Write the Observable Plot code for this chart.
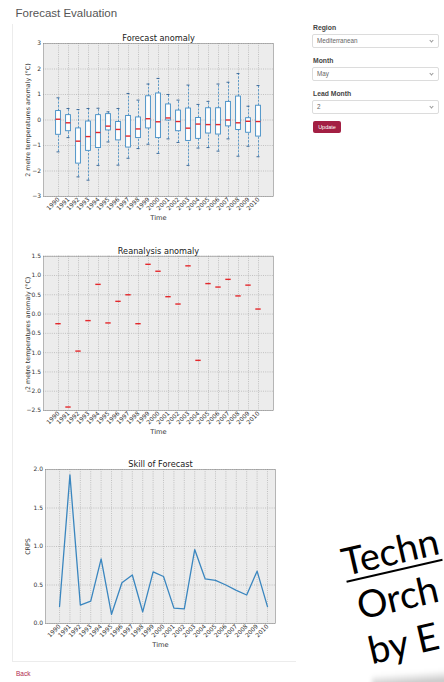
<!DOCTYPE html>
<html><head><meta charset="utf-8">
<script src="https://cdn.jsdelivr.net/npm/d3@7"></script>
<script src="https://cdn.jsdelivr.net/npm/@observablehq/plot@0.6"></script>
<style>
html,body{margin:0;padding:0;width:444px;height:682px;overflow:hidden;background:#fff;font-family:"Liberation Sans",Arial,sans-serif;}
#page{position:relative;width:444px;height:682px;overflow:hidden;}
#hdr{position:absolute;left:15.5px;top:6.5px;font-size:11.5px;color:#555;}
.chart{position:absolute;left:0;}
.chart svg{display:block;}
.lbl{position:absolute;left:313px;font-size:6.8px;font-weight:bold;color:#444;}
.sel{position:absolute;left:312px;width:127px;height:14px;border:1px solid #dcdcdc;border-radius:2px;background:#fff;box-sizing:border-box;font-size:6.3px;color:#666;line-height:12px;padding-left:4px;}
.chev{position:absolute;right:5px;top:4px;width:2px;height:2px;border-right:1px solid #999;border-bottom:1px solid #999;transform:rotate(45deg);}
#btn{position:absolute;left:313px;top:121px;width:28px;height:12px;background:#a31f43;border-radius:2px;color:#fff;font-size:5.5px;line-height:12px;text-align:center;}
#back{position:absolute;left:16px;top:670px;font-size:6.5px;color:#b0284e;}
#panel{position:absolute;left:12px;top:24px;width:283px;height:637px;border-left:1px solid #ececec;border-bottom:1px solid #ececec;}
#slide{position:absolute;left:345px;top:575px;transform-origin:0 0;transform:rotate(-13deg);font-family:Lato,"Open Sans",sans-serif;font-size:38px;color:#000;white-space:nowrap;}
#slide div{position:absolute;left:0;line-height:46px;}
#shadow{position:absolute;left:372px;top:672px;width:90px;height:14px;background:linear-gradient(to bottom,rgba(0,0,0,0),rgba(0,0,0,0.28));filter:blur(2px);transform:rotate(-4deg);}
</style>
</head><body>
<div id="page">
  <div id="panel"></div>
  <div id="hdr">Forecast Evaluation</div>
  <div class="chart" id="c1" style="top:30px"></div>
  <div class="chart" id="c2" style="top:240px"></div>
  <div class="chart" id="c3" style="top:450px"></div>

  <div class="lbl" style="top:24px">Region</div>
  <div class="sel" style="top:34px">Mediterranean<span class="chev"></span></div>
  <div class="lbl" style="top:57px">Month</div>
  <div class="sel" style="top:67px">May<span class="chev"></span></div>
  <div class="lbl" style="top:90px">Lead Month</div>
  <div class="sel" style="top:100px">2<span class="chev"></span></div>
  <div id="btn">Update</div>
  <div id="back">Back</div>

  <div id="slide">
    <div style="top:-37px;text-decoration:underline;text-decoration-thickness:2px;text-underline-offset:5px">Techn</div>
    <div style="top:9px;left:5px">Orch</div>
    <div style="top:55px;left:6px">by E</div>
  </div>
  <div id="shadow"></div>
</div>
<script>
// ---------- data ----------
const years = ["1990","1991","1992","1993","1994","1995","1996","1997","1998","1999","2000",
               "2001","2002","2003","2004","2005","2006","2007","2008","2009","2010"];
const yearNums = [1990,1991,1992,1993,1994,1995,1996,1997,1998,1999,2000,
                  2001,2002,2003,2004,2005,2006,2007,2008,2009,2010];
// Forecast anomaly ensemble boxplots
const capHi  = [0.87,0.45,0.41,0.45,0.46,0.32,0.45,1.04,0.78,1.41,1.63,1.00,0.78,1.37,0.61,0.73,1.41,1.48,1.82,0.54,1.35];
const q3     = [0.35,0.19,-0.33,-0.06,0.19,0.23,-0.08,0.16,0.10,0.93,1.04,0.61,0.37,0.45,0.08,0.46,0.46,0.71,0.92,0.07,0.56];
const median = [0.03,-0.11,-0.83,-0.65,-0.49,-0.24,-0.37,-0.63,-0.35,0.05,-0.07,0.08,-0.06,-0.32,-0.16,-0.18,-0.18,0.00,-0.11,-0.05,-0.06];
const q1     = [-0.58,-0.44,-1.71,-1.21,-1.10,-0.41,-0.80,-1.08,-0.71,-0.33,-0.71,-0.02,-0.44,-0.82,-0.74,-0.53,-0.57,-0.25,-0.39,-0.50,-0.65];
const capLo  = [-1.25,-0.69,-2.23,-2.36,-1.78,-0.86,-1.77,-1.50,-1.12,-0.95,-1.31,-0.74,-0.88,-1.78,-1.10,-1.08,-1.22,-0.74,-1.42,-1.03,-1.44];
// Reanalysis anomaly
const reanalysis = [-0.25,-2.41,-0.96,-0.17,0.77,-0.23,0.33,0.50,-0.25,1.29,1.11,0.45,0.26,1.25,-1.20,0.79,0.70,0.90,0.47,0.75,0.13];
// Skill of forecast (CRPS)
const crps = [0.22,1.93,0.24,0.29,0.84,0.12,0.53,0.63,0.15,0.67,0.61,0.20,0.19,0.96,0.58,0.56,0.50,0.43,0.37,0.68,0.22];

const ticks1 = [-3,-2,-1,0,1,2,3];
const ticks2 = [-2.5,-2.0,-1.5,-1.0,-0.5,0.0,0.5,1.0,1.5];
const ticks3 = [0.0,0.5,1.0,1.5,2.0];

const titles = ["Forecast anomaly","Reanalysis anomaly","Skill of Forecast"];
const yLabels = ["2 metre temperatures anomaly (°C)","2 metre temperatures anomaly (°C)","CRPS"];
const xLabel = "Time";

// ---------- styling ----------
const BG = "#ececec", GRID = "#a4a4a4", BLUE = "#3d8ac4", CAP = "#2f5f92", RED = "#e4282c", LINE = "#3a86bf";
const font = "DejaVu Sans";

function decor(title, ylab, ylabDx) {
  return [
    Plot.text([title], {frameAnchor:"top", dy:-5, fontSize:8.2, fill:"#1a1a1a", fontFamily:font, lineAnchor:"middle"}),
    Plot.text([ylab], {frameAnchor:"left", dx:ylabDx, rotate:-90, textAnchor:"middle", lineAnchor:"middle", fontSize:6.3, fill:"#333", fontFamily:font}),
    Plot.text([xLabel], {frameAnchor:"bottom", dy:21, fontSize:6.7, fill:"#333", fontFamily:font, lineAnchor:"middle"})
  ];
}
const gridStyle = {stroke:GRID, strokeOpacity:1, strokeDasharray:"1,1.2", strokeWidth:0.6};

// ---------- chart 1 ----------
const boxes = years.map((y,i)=>({year:y, hi:capHi[i], q3:q3[i], med:median[i], q1:q1[i], lo:capLo[i]}));
const c1 = Plot.plot({
  width:290, height:198, marginLeft:43, marginRight:17, marginTop:13, marginBottom:32,
  style:{fontFamily:font, color:"#333", background:"transparent", overflow:"visible"},
  x:{type:"band", domain:years, padding:0, label:null},
  y:{domain:[-3,3], label:null},
  marks:[
    Plot.frame({fill:BG}),
    Plot.gridX({...gridStyle}),
    Plot.gridY(ticks1, {...gridStyle}),
    Plot.ruleX(boxes, {x:"year", y1:"q3", y2:"hi", stroke:BLUE, strokeWidth:0.8, strokeDasharray:"2,1.5"}),
    Plot.ruleX(boxes, {x:"year", y1:"lo", y2:"q1", stroke:BLUE, strokeWidth:0.8, strokeDasharray:"2,1.5"}),
    Plot.tickY(boxes, {x:"year", y:"hi", stroke:CAP, strokeWidth:0.9, insetLeft:3.5, insetRight:3.5}),
    Plot.tickY(boxes, {x:"year", y:"lo", stroke:CAP, strokeWidth:0.9, insetLeft:3.5, insetRight:3.5}),
    Plot.barY(boxes, {x:"year", y1:"q1", y2:"q3", fill:"#fff", stroke:BLUE, strokeWidth:0.9, insetLeft:2.6, insetRight:2.6}),
    Plot.tickY(boxes, {x:"year", y:"med", stroke:RED, strokeWidth:1.4, insetLeft:2.6, insetRight:2.6}),
    Plot.frame({stroke:"#8a8a8a", strokeWidth:0.6}),
    Plot.axisX({tickRotate:-45, tickSize:0, tickPadding:2, fontSize:6, label:null, fill:"#333"}),
    Plot.axisY(ticks1, {tickSize:0, tickPadding:2.5, fontSize:6, label:null, fill:"#333"}),
    ...decor(titles[0], yLabels[0], -16)
  ]
});
document.getElementById("c1").append(c1);

// ---------- chart 2 ----------
const rea = years.map((y,i)=>({year:y, v:reanalysis[i]}));
const c2 = Plot.plot({
  width:290, height:200, marginLeft:43, marginRight:17, marginTop:15.7, marginBottom:30,
  style:{fontFamily:font, color:"#333", background:"transparent", overflow:"visible"},
  x:{type:"band", domain:years, padding:0, label:null},
  y:{domain:[-2.5,1.5], label:null},
  marks:[
    Plot.frame({fill:BG}),
    Plot.gridX({...gridStyle}),
    Plot.gridY(ticks2, {...gridStyle}),
    Plot.tickY(rea, {x:"year", y:"v", stroke:RED, strokeWidth:1.4, insetLeft:2.3, insetRight:2.3}),
    Plot.frame({stroke:"#8a8a8a", strokeWidth:0.6}),
    Plot.axisX({tickRotate:-45, tickSize:0, tickPadding:2, fontSize:6, label:null, fill:"#333"}),
    Plot.axisY(ticks2, {tickSize:0, tickPadding:2.5, fontSize:6, label:null, fill:"#333", tickFormat:d3.format(".1f")}),
    ...decor(titles[1], yLabels[1], -16)
  ]
});
document.getElementById("c2").append(c2);

// ---------- chart 3 ----------
const skill = yearNums.map((y,i)=>({year:y, v:crps[i]}));
const c3 = Plot.plot({
  width:290, height:200, marginLeft:45, marginRight:15, marginTop:19, marginBottom:27,
  style:{fontFamily:font, color:"#333", background:"transparent", overflow:"visible"},
  x:{type:"linear", domain:[1988.65, 2010.77], label:null},
  y:{domain:[0,2], label:null},
  marks:[
    Plot.frame({fill:BG}),
    Plot.gridX(yearNums, {...gridStyle}),
    Plot.gridY(ticks3, {...gridStyle}),
    Plot.lineY(skill, {x:"year", y:"v", stroke:LINE, strokeWidth:1.3}),
    Plot.frame({stroke:"#8a8a8a", strokeWidth:0.6}),
    Plot.axisX(yearNums, {tickRotate:-45, tickSize:0, tickPadding:2, fontSize:6, label:null, fill:"#333", tickFormat:d=>String(d)}),
    Plot.axisY(ticks3, {tickSize:0, tickPadding:2.5, fontSize:6, label:null, fill:"#333", tickFormat:d3.format(".1f")}),
    ...decor(titles[2], yLabels[2], -18)
  ]
});
document.getElementById("c3").append(c3);
</script>
</body></html>
